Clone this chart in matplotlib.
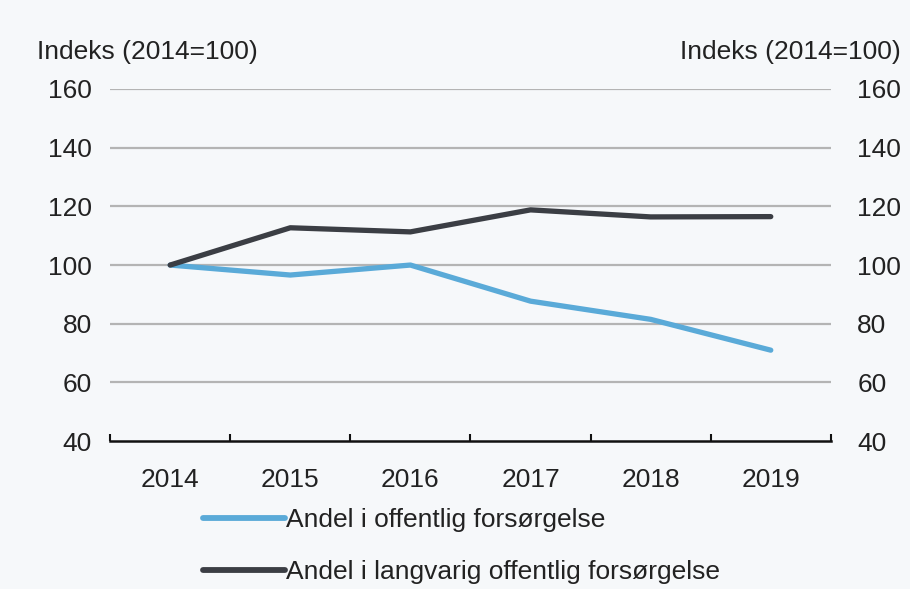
import matplotlib.pyplot as plt
from matplotlib.lines import Line2D

plt.rcParams["font.family"] = ["Liberation Sans", "DejaVu Sans"]

years = ["2014", "2015", "2016", "2017", "2018", "2019"]
andel = [100, 96.6, 100, 87.7, 81.5, 71]
langvarig = [100, 112.7, 111.3, 118.8, 116.4, 116.5]
yticks = [40, 60, 80, 100, 120, 140, 160]
series_labels = ["Andel i offentlig forsørgelse",
                 "Andel i langvarig offentlig forsørgelse"]

BG = "#f6f8fa"
TXT = "#222222"
BLUE = "#5aaad8"
DARK = "#3b3e44"
FS = 19

fig = plt.figure(figsize=(9.1, 5.89), dpi=100, facecolor=BG)
ax = fig.add_axes([0.121, 0.251, 0.792, 0.598])
ax.set_facecolor(BG)

x = list(range(len(years)))
for v in yticks[1:]:
    ax.axhline(v, color="#b4b4b4", lw=1.6, zorder=1)

ax.plot(x, andel, color=BLUE, lw=3.8, solid_capstyle="round", zorder=3)
ax.plot(x, langvarig, color=DARK, lw=3.8, solid_capstyle="round", zorder=4)

ax.set_xlim(-0.5, len(years) - 0.5)
ax.set_ylim(40, 160)
ax.set_yticks(yticks)
ax.set_xticks(x)
ax.set_xticklabels(years)
ax.set_xticks([i - 0.5 for i in range(len(years) + 1)], minor=True)
ax.tick_params(axis="x", which="major", length=0, pad=19, labelsize=FS, colors=TXT)
ax.tick_params(axis="x", which="minor", length=5, width=1.5, direction="in", color="#111")
ax.tick_params(axis="y", length=0, pad=13, labelsize=FS, colors=TXT)
for s in ["top", "left", "right"]:
    ax.spines[s].set_visible(False)
ax.spines["bottom"].set_color("#111")
ax.spines["bottom"].set_linewidth(1.8)

ax2 = ax.secondary_yaxis("right")
ax2.set_yticks(yticks)
ax2.tick_params(length=0, pad=19, labelsize=FS, colors=TXT)
ax2.spines["right"].set_visible(False)

fig.text(37 / 910, 1 - 52 / 589, "Indeks (2014=100)", fontsize=FS, color=TXT,
         ha="left", va="center")
fig.text(901 / 910, 1 - 52 / 589, "Indeks (2014=100)", fontsize=FS, color=TXT,
         ha="right", va="center")

handles = [Line2D([], [], color=BLUE, lw=4.2, solid_capstyle="round"),
           Line2D([], [], color=DARK, lw=4.2, solid_capstyle="round")]
fig.legend(handles, series_labels, loc="upper left",
           bbox_to_anchor=(190 / 910, 1 - 495 / 589),
           frameon=False, fontsize=FS, handlelength=3.1, handletextpad=0.05,
           labelspacing=1.05, borderpad=0, labelcolor=TXT)

fig.savefig("out.png", dpi=100, facecolor=BG)
